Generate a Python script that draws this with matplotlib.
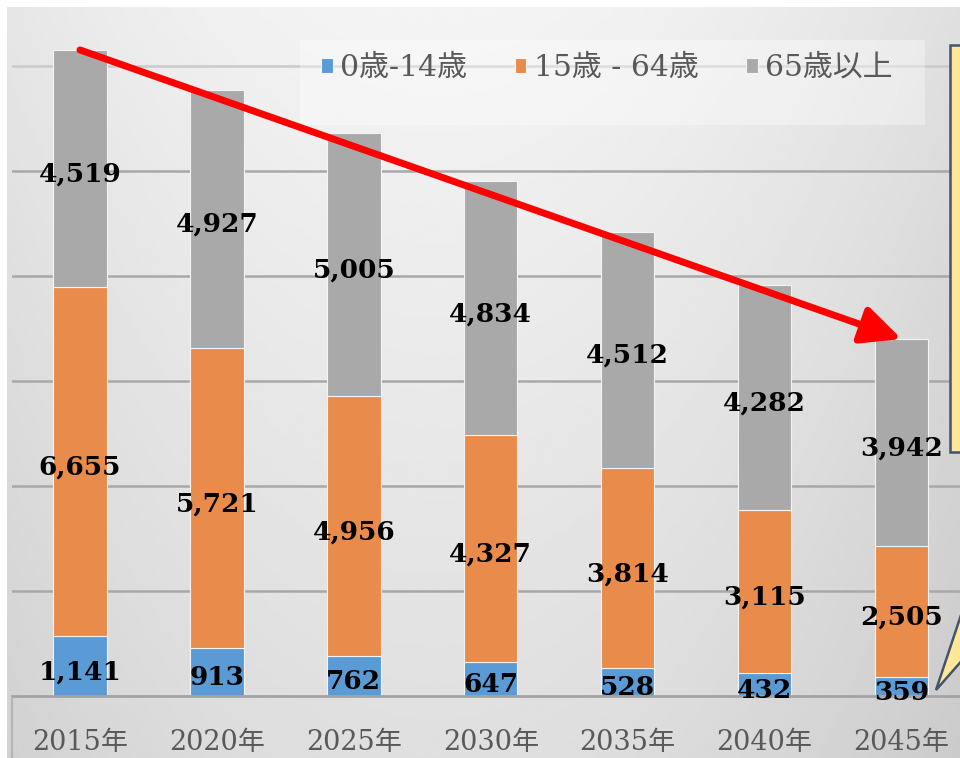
import numpy as np
import matplotlib
matplotlib.use('Agg')
import matplotlib.pyplot as plt
from matplotlib.patches import Rectangle, Polygon
from matplotlib.lines import Line2D

plt.rcParams['font.family'] = ['DejaVu Serif', 'Noto Sans CJK JP']

# Données (milliers de personnes)
years = ['2015年', '2020年', '2025年', '2030年', '2035年', '2040年', '2045年']
age_0_14 = [1141, 913, 762, 647, 528, 432, 359]
age_15_64 = [6655, 5721, 4956, 4327, 3814, 3115, 2505]
age_65 = [4519, 4927, 5005, 4834, 4512, 4282, 3942]
series_names = ['0歳-14歳', '15歳 - 64歳', '65歳以上']
colors = ['#5B9BD5', '#E98B4A', '#A9A9A9']

W, H = 960, 758
fig = plt.figure(figsize=(W / 100, H / 100), dpi=100, facecolor='white')

# Fond dégradé gris
bg = fig.add_axes([7 / W, 0, 1 - 7 / W, (H - 7) / H], zorder=0)
gx = np.linspace(0, 1, 300)
gy = np.linspace(0, 1, 300)
GX, GY = np.meshgrid(gx, gy)
grad = 0.955 - 0.08 * ((GX - 0.45) / 0.55) ** 2 - 0.08 * GY
bg.imshow(grad, aspect='auto', cmap='gray', vmin=0, vmax=1, extent=[0, 1, 0, 1])
bg.axis('off')

# Axe principal
px = 0.05246  # pixels par unité
ax = fig.add_axes([11.5 / W, 62 / H, 958.5 / W, 689 / H], zorder=1)
ax.set_facecolor('none')
x = np.arange(len(years))
a = np.array(age_0_14)
b = np.array(age_15_64)
c = np.array(age_65)
bw = 0.39
bars = []
bars.append(ax.bar(x, a, bw, color=colors[0], edgecolor='#f4f4f4', linewidth=0.8, zorder=2))
bars.append(ax.bar(x, b, bw, bottom=a, color=colors[1], edgecolor='#f4f4f4', linewidth=0.8, zorder=2))
bars.append(ax.bar(x, c, bw, bottom=a + b, color=colors[2], edgecolor='#f4f4f4', linewidth=0.8, zorder=2))

for bc in bars:
    texts = ax.bar_label(bc, labels=[f'{v:,}' for v in bc.datavalues], label_type='center',
                         fontsize=19, fontweight='bold', color='black', zorder=4)
    for t in texts:
        t.xyann = (0, -4)

ax.set_xlim(-0.5, 6.5)
ax.set_ylim(0, 689 / px)
ax.set_yticks(range(2000, 12001, 2000))
ax.set_yticklabels([])
ax.tick_params(axis='y', length=0)
ax.grid(axis='y', color='#a8a8a8', linewidth=1.8, zorder=0)
ax.get_ygridlines()[-1].set_color('#cacaca')
ax.set_axisbelow(True)
ax.set_xticks(x)
ax.set_xticklabels(years, fontsize=19.5, color='#595959')
ax.tick_params(axis='x', length=0, pad=24)
for s in ['top', 'right', 'left']:
    ax.spines[s].set_visible(False)
ax.spines['bottom'].set_color('#a3a3a3')
ax.spines['bottom'].set_linewidth(2)

# Bande de l'axe x
fig.add_artist(Line2D([12 / W, 12 / W], [0, 60 / H], color='#b4b4b4', linewidth=1.5))

# Fond de la légende
ax.add_patch(Rectangle((300 / W, 1 - 125 / H), 625 / W, 85 / H, transform=fig.transFigure,
                       facecolor='white', alpha=0.35, edgecolor='none', zorder=1.5))

leg = ax.legend(bars, series_names, loc='center', ncol=3, frameon=False,
                bbox_to_anchor=(607 / W, 1 - 68 / H), bbox_transform=fig.transFigure,
                fontsize=21.5, handlelength=0.38, handleheight=0.38, handletextpad=0.25,
                columnspacing=1.6, labelcolor='#595959')
leg.set_zorder(5)

# Flèche rouge
totals = a + b + c
ax.annotate('', xy=(x[-1], totals[-1]), xytext=(x[0], totals[0]),
            arrowprops=dict(arrowstyle='-|>,head_length=0.8,head_width=0.38', color='#FF0000',
                            lw=5, mutation_scale=30, shrinkA=0, shrinkB=0), zorder=6)

# Bulle jaune
fig.add_artist(Rectangle((950 / W, 1 - 452 / H), 0.1, 407 / H, transform=fig.transFigure,
                         facecolor='#FFE699', edgecolor='#44546A', linewidth=1.8, zorder=7))
tail = [(936 / W, 1 - 690 / H), (962 / W, 1 - 612 / H), (980 / W, 1 - 640 / H)]
fig.add_artist(Polygon(tail, closed=True, transform=fig.transFigure,
                       facecolor='#FFE699', edgecolor='#44546A', linewidth=1.8, zorder=7))

fig.savefig('out.png', dpi=100)
